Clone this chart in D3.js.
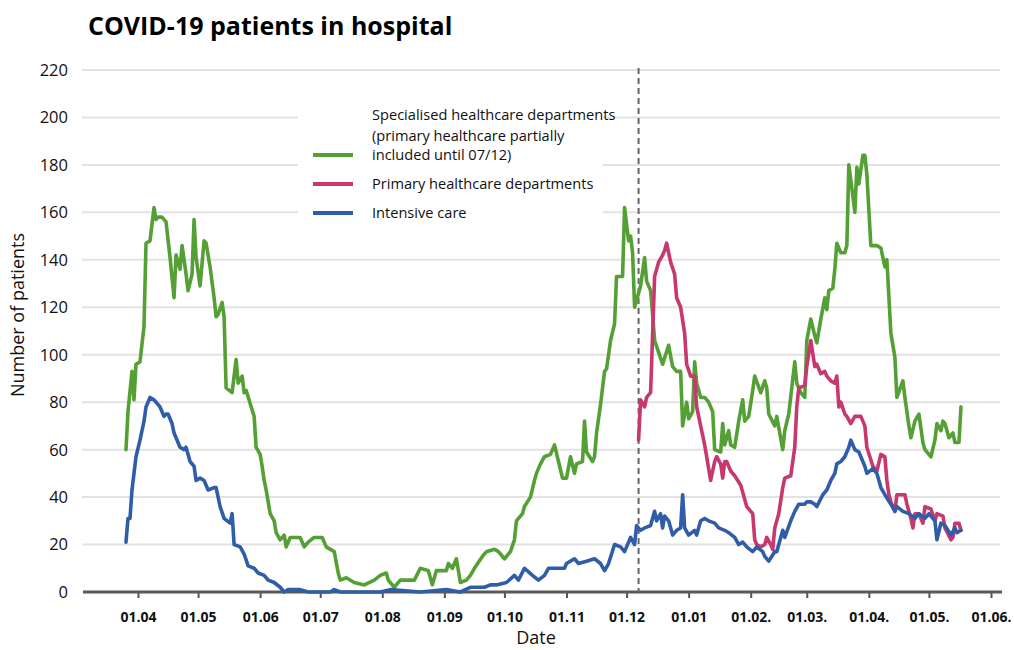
<!DOCTYPE html>
<html>
<head>
<meta charset="utf-8">
<script src="https://cdn.jsdelivr.net/npm/d3@7/dist/d3.min.js"></script>
<style>
  html, body { margin: 0; padding: 0; background: #fff; }
  svg { display: block; font-family: "Open Sans", "DejaVu Sans", sans-serif; }
</style>
</head>
<body>
<svg id="chart" width="1014" height="650"></svg>
<script>
// ---------- DATA ----------
const chartTitle = "COVID-19 patients in hospital";
const yTickValues = [0, 20, 40, 60, 80, 100, 120, 140, 160, 180, 200, 220];
const xTickDates = ["2020-04-01","2020-05-01","2020-06-01","2020-07-01","2020-08-01","2020-09-01","2020-10-01","2020-11-01","2020-12-01","2021-01-01","2021-02-01","2021-03-01","2021-04-01","2021-05-01","2021-06-01"];
const xTickLabels = ["01.04","01.05","01.06","01.07","01.08","01.09","01.10","01.11","01.12","01.01","01.02.","01.03.","01.04.","01.05.","01.06."];
const changeDate = "2020-12-07";
const legendLabels = [
  ["Specialised healthcare departments", "(primary healthcare partially", "included until 07/12)"],
  ["Primary healthcare departments"],
  ["Intensive care"]
];

const specialisedDates = ["2020-03-26","2020-03-27","2020-03-29","2020-03-30","2020-03-31","2020-04-02","2020-04-04","2020-04-05","2020-04-07","2020-04-09","2020-04-10","2020-04-11","2020-04-13","2020-04-15","2020-04-17","2020-04-19","2020-04-20","2020-04-22","2020-04-23","2020-04-25","2020-04-26","2020-04-28","2020-04-29","2020-04-30","2020-05-02","2020-05-04","2020-05-05","2020-05-07","2020-05-09","2020-05-10","2020-05-11","2020-05-13","2020-05-14","2020-05-15","2020-05-18","2020-05-20","2020-05-21","2020-05-23","2020-05-24","2020-05-25","2020-05-29","2020-05-30","2020-06-01","2020-06-02","2020-06-03","2020-06-04","2020-06-06","2020-06-08","2020-06-09","2020-06-11","2020-06-13","2020-06-14","2020-06-16","2020-06-21","2020-06-23","2020-06-25","2020-06-28","2020-07-02","2020-07-04","2020-07-08","2020-07-10","2020-07-11","2020-07-14","2020-07-18","2020-07-23","2020-07-28","2020-07-31","2020-08-03","2020-08-04","2020-08-07","2020-08-10","2020-08-13","2020-08-17","2020-08-20","2020-08-24","2020-08-26","2020-08-28","2020-09-02","2020-09-03","2020-09-05","2020-09-07","2020-09-09","2020-09-12","2020-09-14","2020-09-16","2020-09-20","2020-09-22","2020-09-26","2020-09-28","2020-10-01","2020-10-04","2020-10-06","2020-10-07","2020-10-10","2020-10-11","2020-10-14","2020-10-16","2020-10-17","2020-10-19","2020-10-21","2020-10-24","2020-10-26","2020-10-28","2020-10-30","2020-11-01","2020-11-03","2020-11-05","2020-11-06","2020-11-09","2020-11-10","2020-11-11","2020-11-14","2020-11-15","2020-11-16","2020-11-18","2020-11-20","2020-11-21","2020-11-23","2020-11-25","2020-11-26","2020-11-29","2020-11-30","2020-12-01","2020-12-02","2020-12-03","2020-12-04","2020-12-05","2020-12-06","2020-12-08","2020-12-10","2020-12-11","2020-12-13","2020-12-14","2020-12-15","2020-12-17","2020-12-19","2020-12-22","2020-12-24","2020-12-26","2020-12-28","2020-12-29","2020-12-31","2021-01-01","2021-01-03","2021-01-04","2021-01-05","2021-01-07","2021-01-09","2021-01-11","2021-01-13","2021-01-14","2021-01-17","2021-01-18","2021-01-19","2021-01-21","2021-01-22","2021-01-24","2021-01-26","2021-01-28","2021-01-29","2021-01-31","2021-02-02","2021-02-03","2021-02-06","2021-02-08","2021-02-09","2021-02-10","2021-02-13","2021-02-14","2021-02-17","2021-02-18","2021-02-20","2021-02-23","2021-02-24","2021-02-26","2021-02-28","2021-03-01","2021-03-03","2021-03-05","2021-03-06","2021-03-08","2021-03-10","2021-03-11","2021-03-12","2021-03-14","2021-03-15","2021-03-16","2021-03-18","2021-03-20","2021-03-21","2021-03-22","2021-03-24","2021-03-25","2021-03-26","2021-03-27","2021-03-29","2021-03-30","2021-03-31","2021-04-02","2021-04-05","2021-04-07","2021-04-09","2021-04-10","2021-04-12","2021-04-14","2021-04-15","2021-04-18","2021-04-19","2021-04-21","2021-04-22","2021-04-24","2021-04-26","2021-04-28","2021-04-29","2021-05-02","2021-05-04","2021-05-05","2021-05-07","2021-05-08","2021-05-09","2021-05-11","2021-05-13","2021-05-14","2021-05-16","2021-05-17"];
const specialisedValues = [60,76,93,81,96,97,112,147,148,162,157,158,158,156,141,124,142,136,146,134,127,134,157,141,129,148,147,137,124,116,117,122,116,86,84,98,88,91,84,85,74,61,58,53,47,43,33,30,25,22,24,19,23,23,19,21,23,23,19,17,8,5,6,4,3,5,7,8,5,2,5,5,5,10,9,3,9,9,12,10,14,4,5,7,10,15,17,18,17,14,17,22,30,33,36,40,47,50,54,57,58,62,55,48,48,57,50,54,55,72,59,55,57,67,79,93,94,106,113,133,133,162,155,148,150,143,120,123,129,141,131,127,117,106,101,96,104,95,93,93,70,80,73,76,97,88,82,82,80,76,60,59,71,62,68,62,61,72,81,72,74,85,91,84,89,86,75,70,74,60,68,75,97,88,84,82,106,115,108,105,115,124,119,127,128,136,147,143,143,146,180,167,160,179,172,184,184,176,146,146,145,137,140,109,99,82,89,82,70,65,72,75,63,60,57,64,71,68,72,71,65,67,63,63,78];

const primaryDates = ["2020-12-07","2020-12-08","2020-12-10","2020-12-11","2020-12-13","2020-12-15","2020-12-17","2020-12-19","2020-12-20","2020-12-21","2020-12-23","2020-12-25","2020-12-26","2020-12-28","2020-12-30","2020-12-31","2021-01-02","2021-01-04","2021-01-05","2021-01-06","2021-01-09","2021-01-10","2021-01-12","2021-01-14","2021-01-15","2021-01-17","2021-01-18","2021-01-19","2021-01-20","2021-01-22","2021-01-24","2021-01-27","2021-01-30","2021-02-02","2021-02-03","2021-02-04","2021-02-06","2021-02-08","2021-02-09","2021-02-11","2021-02-12","2021-02-13","2021-02-15","2021-02-17","2021-02-18","2021-02-21","2021-02-23","2021-02-24","2021-02-25","2021-02-28","2021-03-01","2021-03-03","2021-03-05","2021-03-06","2021-03-08","2021-03-10","2021-03-11","2021-03-13","2021-03-15","2021-03-16","2021-03-17","2021-03-18","2021-03-20","2021-03-21","2021-03-23","2021-03-25","2021-03-28","2021-03-30","2021-03-31","2021-04-03","2021-04-05","2021-04-07","2021-04-09","2021-04-10","2021-04-11","2021-04-12","2021-04-14","2021-04-15","2021-04-19","2021-04-20","2021-04-22","2021-04-23","2021-04-24","2021-04-26","2021-04-28","2021-04-29","2021-05-02","2021-05-04","2021-05-05","2021-05-08","2021-05-09","2021-05-12","2021-05-13","2021-05-14","2021-05-16","2021-05-17"];
const primaryValues = [64,81,78,82,84,133,139,142,144,147,139,134,124,120,109,96,91,91,78,74,62,57,47,55,57,54,48,55,55,51,49,45,36,33,22,20,19,20,23,20,18,27,33,44,48,49,61,78,86,87,95,106,95,96,92,93,91,89,88,91,78,80,75,74,71,74,74,70,61,53,51,58,57,47,41,38,34,41,41,37,31,27,33,33,29,36,35,30,33,32,27,22,23,29,29,26];

const intensiveDates = ["2020-03-26","2020-03-27","2020-03-28","2020-03-29","2020-03-31","2020-04-02","2020-04-04","2020-04-05","2020-04-07","2020-04-09","2020-04-10","2020-04-12","2020-04-14","2020-04-15","2020-04-16","2020-04-18","2020-04-19","2020-04-22","2020-04-24","2020-04-25","2020-04-27","2020-04-29","2020-04-30","2020-05-02","2020-05-04","2020-05-06","2020-05-09","2020-05-10","2020-05-12","2020-05-14","2020-05-17","2020-05-18","2020-05-19","2020-05-22","2020-05-24","2020-05-26","2020-05-29","2020-05-31","2020-06-03","2020-06-05","2020-06-08","2020-06-11","2020-06-13","2020-06-15","2020-06-21","2020-06-25","2020-06-29","2020-07-06","2020-07-08","2020-07-11","2020-07-31","2020-08-05","2020-08-20","2020-09-02","2020-09-09","2020-09-14","2020-09-21","2020-09-24","2020-09-27","2020-10-02","2020-10-06","2020-10-08","2020-10-11","2020-10-15","2020-10-18","2020-10-21","2020-10-23","2020-10-27","2020-10-31","2020-11-01","2020-11-05","2020-11-07","2020-11-11","2020-11-15","2020-11-18","2020-11-20","2020-11-22","2020-11-25","2020-11-28","2020-11-30","2020-12-01","2020-12-03","2020-12-05","2020-12-06","2020-12-08","2020-12-10","2020-12-13","2020-12-15","2020-12-16","2020-12-18","2020-12-19","2020-12-20","2020-12-22","2020-12-24","2020-12-26","2020-12-28","2020-12-29","2020-12-30","2021-01-01","2021-01-04","2021-01-05","2021-01-07","2021-01-09","2021-01-11","2021-01-14","2021-01-16","2021-01-19","2021-01-21","2021-01-24","2021-01-26","2021-01-28","2021-01-30","2021-02-02","2021-02-04","2021-02-07","2021-02-08","2021-02-10","2021-02-13","2021-02-14","2021-02-17","2021-02-18","2021-02-21","2021-02-23","2021-02-25","2021-02-28","2021-03-01","2021-03-03","2021-03-05","2021-03-06","2021-03-09","2021-03-11","2021-03-13","2021-03-15","2021-03-16","2021-03-18","2021-03-20","2021-03-22","2021-03-23","2021-03-25","2021-03-27","2021-03-30","2021-03-31","2021-04-03","2021-04-05","2021-04-07","2021-04-09","2021-04-12","2021-04-14","2021-04-15","2021-04-18","2021-04-21","2021-04-24","2021-04-26","2021-04-29","2021-05-01","2021-05-04","2021-05-05","2021-05-07","2021-05-09","2021-05-12","2021-05-14","2021-05-15","2021-05-17"];
const intensiveValues = [21,31,31,43,57,64,72,78,82,81,80,78,74,75,75,71,67,61,60,61,55,53,47,48,47,43,44,44,36,31,29,33,20,19,16,11,10,8,7,5,4,2,0,1,1,0,0,0,1,0,0,1,0,1,0,2,2,3,3,4,7,5,10,7,5,7,10,10,10,12,14,12,13,14,12,9,12,20,19,17,19,23,20,28,26,27,28,34,30,33,27,32,30,24,26,27,41,27,24,26,24,30,31,30,29,27,26,25,23,20,21,19,17,19,17,15,13,17,17,26,23,30,34,37,37,38,38,37,36,41,43,47,50,54,55,57,61,64,60,59,53,50,52,50,44,41,37,34,36,34,33,31,33,31,33,30,22,29,28,24,27,25,26];

const seriesColors = ["#55a034", "#c7386f", "#2f5da8"];

// ---------- CHART ----------
const parse = d3.timeParse("%Y-%m-%d");
const svg = d3.select("#chart");

const x = d3.scaleTime()
  .domain([parse("2020-04-01"), parse("2021-06-01")])
  .range([138, 991]);
const y = d3.scaleLinear().domain([0, 220]).range([592, 70]);
const axisLeftX = 83, axisRightX = 1002;

// gridlines
svg.append("g").selectAll("line")
  .data(yTickValues.filter(v => v > 0))
  .join("line")
  .attr("x1", 82).attr("x2", 1000)
  .attr("y1", d => y(d)).attr("y2", d => y(d))
  .attr("stroke", "#e2e2e2").attr("stroke-width", 2);

// y tick labels
svg.append("g").selectAll("text")
  .data(yTickValues)
  .join("text")
  .attr("x", 68).attr("y", d => y(d)).attr("dy", "0.36em")
  .attr("text-anchor", "end")
  .attr("font-size", 16.5).attr("fill", "#111")
  .text(d => d);

// x axis
const xAxis = d3.axisBottom(x)
  .tickValues(xTickDates.map(parse))
  .tickFormat((d, i) => xTickLabels[i])
  .tickSize(6).tickPadding(14);
const gx = svg.append("g").attr("transform", `translate(0,${y(0)})`).call(xAxis);
gx.select(".domain").remove();
gx.selectAll(".tick line").attr("stroke", "#555").attr("stroke-width", 2);
gx.selectAll(".tick text")
  .attr("font-family", "'Open Sans', sans-serif")
  .attr("font-size", 14).attr("font-weight", "bold").attr("fill", "#111");
svg.append("line")
  .attr("x1", axisLeftX).attr("x2", axisRightX)
  .attr("y1", y(0)).attr("y2", y(0))
  .attr("stroke", "#5a5a5a").attr("stroke-width", 3);

// dashed marker line
svg.append("line")
  .attr("x1", x(parse(changeDate))).attr("x2", x(parse(changeDate)))
  .attr("y1", 68).attr("y2", y(0))
  .attr("stroke", "#666").attr("stroke-width", 2)
  .attr("stroke-dasharray", "6,4");

// legend background
svg.append("rect")
  .attr("x", 298).attr("y", 97).attr("width", 305).attr("height", 130)
  .attr("fill", "#fff");

// lines
const line = d3.line()
  .x(d => x(d[0]))
  .y(d => y(d[1]));
const series = [
  d3.zip(specialisedDates.map(parse), specialisedValues),
  d3.zip(primaryDates.map(parse), primaryValues),
  d3.zip(intensiveDates.map(parse), intensiveValues)
];
svg.append("g").selectAll("path")
  .data(series)
  .join("path")
  .attr("d", line)
  .attr("fill", "none")
  .attr("stroke", (d, i) => seriesColors[i])
  .attr("stroke-width", 3.6)
  .attr("stroke-linejoin", "round")
  .attr("stroke-linecap", "round");

// legend
const legendLineY = [155, 184, 213];
const legendTextY = [[115, 136, 155], [184], [213]];
const lg = svg.append("g");
legendLabels.forEach((lines, i) => {
  lg.append("line")
    .attr("x1", 313).attr("x2", 353)
    .attr("y1", legendLineY[i]).attr("y2", legendLineY[i])
    .attr("stroke", seriesColors[i]).attr("stroke-width", 4);
  lines.forEach((t, j) => {
    lg.append("text")
      .attr("x", 372).attr("y", legendTextY[i][j]).attr("dy", "0.35em")
      .attr("font-size", 14.6).attr("fill", "#111")
      .text(t);
  });
});

// title & axis titles
svg.append("text")
  .attr("x", 88).attr("y", 35)
  .attr("font-size", 25).attr("font-weight", "bold").attr("fill", "#000")
  .text(chartTitle);
svg.append("text")
  .attr("x", 536).attr("y", 644)
  .attr("text-anchor", "middle")
  .attr("font-size", 18).attr("fill", "#111")
  .text("Date");
svg.append("text")
  .attr("transform", "translate(24,315) rotate(-90)")
  .attr("text-anchor", "middle")
  .attr("font-size", 18).attr("fill", "#111")
  .text("Number of patients");
</script>
</body>
</html>
